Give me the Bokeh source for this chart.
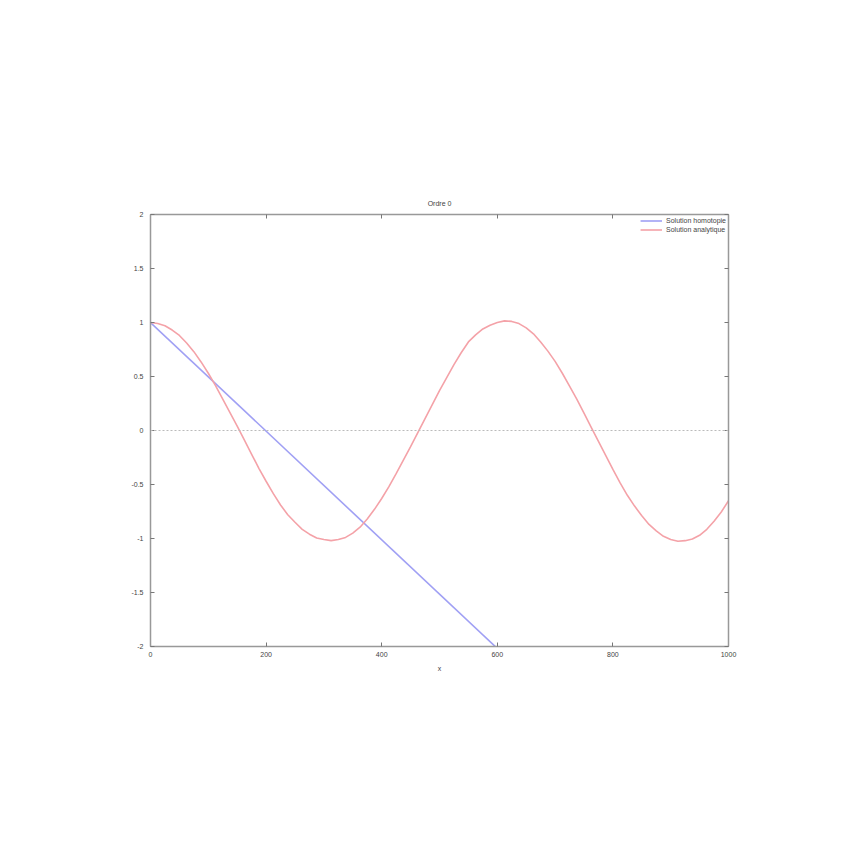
from bokeh.plotting import figure
from bokeh.models import LinearAxis, FixedTicker, Span, Range1d, Legend, LegendItem
from bokeh.embed import file_html
from bokeh.resources import INLINE

# Analytic solution
x_analytic = [0, 12.5, 25, 37.5, 50, 62.5, 75, 87.5, 100, 112.5, 125, 137.5, 150,
              162.5, 175, 187.5, 200, 212.5, 225, 237.5, 250, 262.5, 275, 287.5,
              300, 312.5, 325, 337.5, 350, 362.5, 375, 387.5, 400, 412.5, 425,
              437.5, 450, 462.5, 475, 487.5, 500, 512.5, 525, 537.5, 550, 562.5,
              575, 587.5, 600, 612.5, 625, 637.5, 650, 662.5, 675, 687.5, 700,
              712.5, 725, 737.5, 750, 762.5, 775, 787.5, 800, 812.5, 825, 837.5,
              850, 862.5, 875, 887.5, 900, 912.5, 925, 937.5, 950, 962.5, 975,
              987.5, 1000]
y_analytic = [1.00, 0.99, 0.97, 0.93, 0.88, 0.81, 0.73, 0.635, 0.53, 0.415, 0.29,
              0.165, 0.04, -0.09, -0.22, -0.35, -0.47, -0.585, -0.69, -0.78, -0.85,
              -0.915, -0.96, -0.995, -1.01, -1.02, -1.01, -0.99, -0.95, -0.895,
              -0.82, -0.73, -0.63, -0.52, -0.40, -0.275, -0.15, -0.02, 0.11, 0.24,
              0.37, 0.49, 0.61, 0.72, 0.82, 0.885, 0.94, 0.975, 1.00, 1.015, 1.01,
              0.99, 0.95, 0.895, 0.82, 0.735, 0.64, 0.53, 0.41, 0.29, 0.16, 0.03,
              -0.10, -0.23, -0.36, -0.485, -0.60, -0.70, -0.79, -0.87, -0.93,
              -0.98, -1.01, -1.025, -1.02, -1.005, -0.97, -0.915, -0.84, -0.755,
              -0.65]

# Homotopy solution, order 0 (straight line)
x_homotopy = [0, 1000]
y_homotopy = [1.0, -4.03]

x_ticks = [0, 200, 400, 600, 800, 1000]
y_ticks = [-2, -1.5, -1, -0.5, 0, 0.5, 1, 1.5, 2]
y_tick_labels = ["-2", "-1.5", "-1", "-0.5", "0", "0.5", "1", "1.5", "2"]

FONT = "Liberation Sans"
TXT = "#444444"
AX = "#999999"

p = figure(frame_width=578, frame_height=432,
           min_border_left=150, min_border_right=120,
           min_border_top=214, min_border_bottom=202,
           x_range=Range1d(0, 1000), y_range=Range1d(-2, 2),
           output_backend="svg", toolbar_location=None,
           title="Ordre 0", x_axis_label="x")
p.outline_line_color = None
p.xgrid.grid_line_color = None
p.ygrid.grid_line_color = None
p.background_fill_color = "white"
p.border_fill_color = "white"

p.title.align = "center"
p.title.text_font = FONT
p.title.text_font_size = "7px"
p.title.text_font_style = "normal"
p.title.text_color = TXT
p.title.standoff = 16

# extra mirror axes (ticks only)
top_ax = LinearAxis()
right_ax = LinearAxis()
p.add_layout(top_ax, "above")
p.add_layout(right_ax, "right")

label_map = {t: l for t, l in zip(y_ticks, y_tick_labels)}

for ax in p.xaxis:
    ax.ticker = FixedTicker(ticks=x_ticks)
for ax in p.yaxis:
    ax.ticker = FixedTicker(ticks=y_ticks)
    ax.major_label_overrides = label_map

for ax in p.axis:
    ax.axis_line_color = AX
    ax.axis_line_width = 1.5
    ax.major_tick_line_color = "#777777"
    ax.major_tick_in = 4
    ax.major_tick_out = 0
    ax.minor_tick_line_color = None
    ax.major_label_text_font = FONT
    ax.major_label_text_font_size = "7px"
    ax.major_label_text_color = TXT
    ax.axis_label_text_font = FONT
    ax.axis_label_text_font_size = "7px"
    ax.axis_label_text_font_style = "normal"
    ax.axis_label_text_color = TXT

p.xaxis[0].major_label_standoff = 4
p.xaxis[0].axis_label_standoff = 6
p.yaxis[0].major_label_standoff = 7

top_ax.major_label_overrides = {t: "" for t in x_ticks}
right_ax.major_label_overrides = {t: "" for t in y_ticks}
top_ax.major_label_standoff = 0
right_ax.major_label_standoff = 0

zero = Span(location=0, dimension="width", line_color="#bbbbbb",
            line_dash="2 2", line_width=1)
p.add_layout(zero)

r_h = p.line(x_homotopy, y_homotopy, line_color="#a0a0f4", line_width=1.6)
r_a = p.line(x_analytic, y_analytic, line_color="#f4a2a8", line_width=1.6)

legend = Legend(items=[LegendItem(label="Solution homotopie", renderers=[r_h]),
                       LegendItem(label="Solution analytique", renderers=[r_a])],
                location="top_right", margin=2, padding=2, spacing=0,
                label_text_font=FONT, label_text_font_size="7px",
                label_text_color=TXT, label_height=9, glyph_height=9,
                glyph_width=22, label_standoff=4,
                background_fill_alpha=0, border_line_color=None)
p.add_layout(legend)

open("out.html", "w").write(file_html(p, INLINE))
